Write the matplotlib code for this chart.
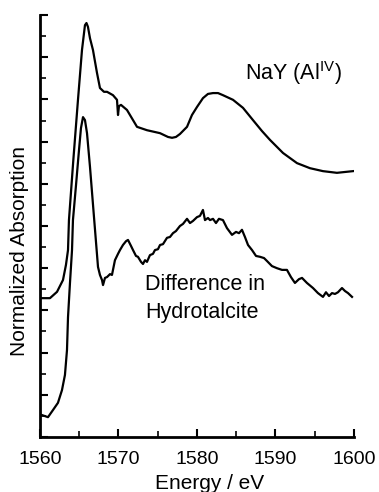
import matplotlib
matplotlib.use("Agg")
import matplotlib.pyplot as plt
from matplotlib.ticker import MultipleLocator

plt.rcParams['font.family'] = ['Liberation Sans', 'DejaVu Sans']
plt.rcParams['mathtext.fontset'] = 'custom'
plt.rcParams['mathtext.rm'] = 'Liberation Sans'

# NaY (Al IV) reference spectrum
nay_energy = [1560.0, 1561.27, 1562.17, 1562.93, 1563.31, 1563.57, 1563.69, 1564.25,
              1564.84, 1565.35, 1565.73, 1565.92, 1566.11, 1566.37, 1566.75, 1567.26,
              1567.64, 1568.15, 1568.54, 1569.30, 1569.81, 1569.94, 1570.06, 1570.32,
              1571.08, 1571.85, 1572.36, 1573.63, 1575.29, 1576.31, 1576.82, 1577.32,
              1577.83, 1578.73, 1579.36, 1580.0, 1580.76, 1581.40, 1582.04, 1582.68,
              1583.31, 1584.59, 1585.86, 1587.13, 1588.28, 1589.30, 1590.96, 1592.74,
              1594.39, 1596.05, 1597.83, 1598.85, 1599.87]
nay_abs = [3.29, 3.29, 3.44, 3.72, 4.08, 4.43, 5.14, 6.57,
           7.99, 9.17, 9.76, 9.81, 9.72, 9.45, 9.17, 8.63,
           8.27, 8.18, 8.18, 8.10, 7.99, 7.63, 7.84, 7.87,
           7.75, 7.51, 7.35, 7.27, 7.20, 7.11, 7.09, 7.11,
           7.18, 7.35, 7.63, 7.82, 8.03, 8.13, 8.15, 8.15,
           8.10, 7.99, 7.80, 7.51, 7.25, 7.04, 6.73, 6.49,
           6.37, 6.30, 6.26, 6.28, 6.30]

# difference spectrum in hydrotalcite
diff_energy = [1560.25, 1561.02, 1561.66, 1562.29, 1562.80, 1563.18, 1563.44, 1563.57,
               1563.82, 1564.08, 1564.20, 1564.59, 1564.97, 1565.22, 1565.48, 1565.73,
               1565.99, 1566.37, 1566.88, 1567.01, 1567.39, 1567.64, 1567.90, 1568.03,
               1568.28, 1568.54, 1568.92, 1569.17, 1569.55, 1569.94, 1570.19, 1570.57,
               1570.96, 1571.21, 1571.59, 1571.85, 1572.23, 1572.48, 1572.87, 1573.12,
               1573.38, 1573.63, 1574.01, 1574.39, 1574.65, 1575.03, 1575.29, 1575.67,
               1576.18, 1576.56, 1576.94, 1577.32, 1577.83, 1578.22, 1578.73, 1579.11,
               1579.49, 1580.0, 1580.38, 1580.76, 1581.02, 1581.40, 1581.66, 1582.04,
               1582.42, 1582.80, 1583.31, 1583.82, 1584.46, 1584.97, 1585.35, 1585.73,
               1586.11, 1586.50, 1587.01, 1587.52, 1588.03, 1588.54, 1588.92, 1589.55,
               1590.19, 1590.83, 1591.46, 1591.97, 1592.48, 1592.99, 1593.38, 1594.01,
               1594.78, 1595.41, 1596.05, 1596.43, 1596.82, 1597.20, 1597.58, 1597.96,
               1598.47, 1598.85, 1599.24, 1599.75]
diff_abs = [0.52, 0.47, 0.64, 0.81, 1.11, 1.47, 2.06, 2.84,
            3.65, 4.43, 5.14, 5.97, 6.80, 7.32, 7.58, 7.51,
            7.20, 6.40, 5.21, 4.91, 4.03, 3.84, 3.72, 3.60,
            3.77, 3.79, 3.86, 3.84, 4.19, 4.34, 4.43, 4.55,
            4.64, 4.67, 4.53, 4.43, 4.29, 4.27, 4.15, 4.10,
            4.19, 4.15, 4.31, 4.34, 4.43, 4.45, 4.55, 4.57,
            4.72, 4.74, 4.83, 4.88, 5.00, 5.05, 5.17, 5.07,
            5.12, 5.21, 5.24, 5.38, 5.14, 5.19, 5.14, 5.17,
            5.07, 5.17, 5.14, 4.95, 4.79, 4.86, 4.83, 4.91,
            4.74, 4.55, 4.43, 4.29, 4.27, 4.24, 4.17, 4.05,
            4.00, 3.96, 3.96, 3.79, 3.65, 3.74, 3.77, 3.65,
            3.53, 3.41, 3.32, 3.43, 3.34, 3.41, 3.39, 3.43,
            3.53, 3.46, 3.41, 3.32]

fig = plt.figure(figsize=(3.79, 4.92), dpi=100)
ax = fig.add_axes([0.1055, 0.1118, 0.8285, 0.8577])

ax.plot(nay_energy, nay_abs, color='black', lw=1.6)
ax.plot(diff_energy, diff_abs, color='black', lw=1.6)

ax.set_xlim(1560, 1600)
ax.set_ylim(0, 10)
ax.xaxis.set_major_locator(MultipleLocator(10))
ax.xaxis.set_minor_locator(MultipleLocator(5))
ax.yaxis.set_major_locator(MultipleLocator(1))
ax.yaxis.set_minor_locator(MultipleLocator(0.5))
ax.set_yticklabels([])

for s in ['top', 'right']:
    ax.spines[s].set_visible(False)
for s in ['left', 'bottom']:
    ax.spines[s].set_linewidth(2)

ax.tick_params(which='major', direction='in', length=6, width=1.5, labelsize=14, pad=10)
ax.tick_params(which='minor', direction='in', length=4, width=1.2)

ax.set_xlabel('Energy / eV', fontsize=15)
ax.xaxis.set_label_coords(0.54, -0.088)
ax.set_ylabel('Normalized Absorption', fontsize=15)
ax.yaxis.set_label_coords(-0.035, 0.44)

ax.text(1586.1, 8.46, r'NaY (Al$^{\mathrm{IV}}$)', fontsize=15.5, ha='left', va='baseline')
ax.text(1573.38, 3.48, 'Difference in', fontsize=15.5, ha='left', va='baseline')
ax.text(1573.38, 2.82, 'Hydrotalcite', fontsize=15.5, ha='left', va='baseline')

plt.savefig('out.png', dpi=100)
plt.close()
